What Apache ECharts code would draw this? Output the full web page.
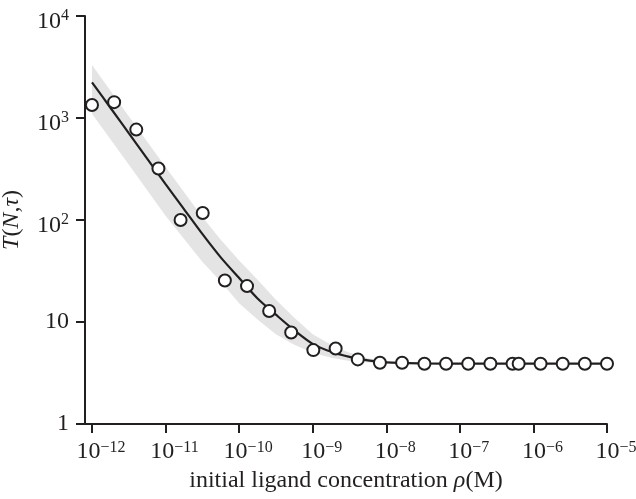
<!DOCTYPE html>
<html>
<head>
<meta charset="utf-8">
<script src="https://cdn.jsdelivr.net/npm/echarts@6/dist/echarts.min.js"></script>
<style>
  html, body { margin: 0; padding: 0; background: #fff; }
  #chart { width: 636px; height: 499px; }
</style>
</head>
<body>
<div id="chart"></div>
<script>
// measured points
const concentration = [1e-12, 2e-12, 4e-12, 8e-12, 1.6e-11, 3.2e-11, 6.4e-11, 1.28e-10, 2.56e-10, 5.1e-10,
  1.02e-9, 2.05e-9, 4.1e-9, 8.2e-9, 1.64e-8, 3.3e-8, 6.5e-8, 1.3e-7, 2.6e-7, 5.2e-7,
  6.3e-7, 1.25e-6, 2.5e-6, 5e-6, 1e-5];
const tValues = [1340, 1430, 770, 320, 100, 117, 25.5, 22.5, 12.8, 7.9,
  5.3, 5.5, 4.3, 3.98, 3.98, 3.9, 3.9, 3.9, 3.9, 3.9,
  3.9, 3.9, 3.9, 3.9, 3.9];

// fitted curve
const fitX = [1e-12, 1.78e-12, 3.16e-12, 5.62e-12, 1e-11, 1.78e-11, 3.16e-11, 5.62e-11, 1e-10, 1.78e-10,
  3.16e-10, 5.62e-10, 1e-9, 1.78e-9, 3.16e-9, 5.62e-9, 1e-8, 3.16e-8, 1e-7, 1e-6, 1e-5];
const fitY = [2240, 1260, 710, 400, 225, 128, 73, 43, 27, 17,
  11.8, 8.3, 6.1, 5.1, 4.55, 4.2, 4.02, 3.93, 3.9, 3.9, 3.9];

// grey confidence band
const bandX = [1e-12, 3.16e-12, 1e-11, 3.16e-11, 5.62e-11, 1e-10, 1.78e-10, 3.16e-10, 5.62e-10, 1e-9,
  1.78e-9, 3.16e-9, 5.62e-9, 1e-8, 1.78e-8];
const bandUpper = [3300, 1040, 330, 107, 64, 40, 26, 16.5, 11, 7.6, 6.0, 5.0, 4.4, 4.1, 3.95];
const bandLower = [1100, 350, 110, 39, 25, 15.3, 10.6, 7.6, 6.0, 5.0, 4.45, 4.15, 4.0, 3.93, 3.9];

const xTicks = [1e-12, 1e-11, 1e-10, 1e-9, 1e-8, 1e-7, 1e-6, 1e-5];
const yTicks = [1, 10, 100, 1000, 10000];

const ink = '#231f20';
const serif = 'Liberation Serif';

function powLabel(v) {
  const e = Math.round(Math.log10(v));
  if (e === 0) return '{b|1}';
  if (e === 1) return '{b|10}';
  return '{B|10}{S|' + (e < 0 ? '\u2212' : '') + Math.abs(e) + '}';
}

const chart = echarts.init(document.getElementById('chart'));

chart.setOption({
  backgroundColor: '#fff',
  animation: false,
  grid: { left: 85, right: 29, top: 16, bottom: 75, containLabel: false, outerBoundsMode: 'none' },
  xAxis: {
    type: 'log',
    logBase: 10,
    min: Math.pow(10, -12.095),
    max: 1e-5,
    name: 'initial ligand concentration {i|\u03c1}(M)',
    nameLocation: 'middle',
    nameGap: 36,
    nameTextStyle: {
      color: ink, fontFamily: serif, fontSize: 24,
      rich: { i: { fontStyle: 'italic', fontFamily: serif, fontSize: 24, color: ink } }
    },
    axisLine: { onZero: false, lineStyle: { color: ink, width: 2 } },
    axisTick: { length: 9, lineStyle: { color: ink, width: 2 }, customValues: xTicks },
    splitLine: { show: false },
    axisLabel: {
      customValues: xTicks,
      margin: 16,
      padding: [0, 0, 0, 18],
      formatter: powLabel,
      rich: {
        B: { fontFamily: serif, fontSize: 24, lineHeight: 24, color: ink },
        S: { fontFamily: serif, fontSize: 16, lineHeight: 14, verticalAlign: 'top', color: ink }
      }
    }
  },
  yAxis: {
    type: 'log',
    logBase: 10,
    min: 1,
    max: 10000,
    name: '{i|T}({i|N},{i|\u03c4})',
    nameLocation: 'middle',
    nameGap: 61,
    nameTextStyle: {
      color: ink, fontFamily: serif, fontSize: 24,
      rich: { i: { fontStyle: 'italic', fontFamily: serif, fontSize: 24, color: ink } }
    },
    axisLine: { onZero: false, lineStyle: { color: ink, width: 2 } },
    axisTick: { length: 9, lineStyle: { color: ink, width: 2 }, customValues: yTicks },
    splitLine: { show: false },
    axisLabel: {
      customValues: yTicks,
      margin: 16,
      formatter: powLabel,
      rich: {
        b: { fontFamily: serif, fontSize: 24, lineHeight: 24, color: ink },
        B: { fontFamily: serif, fontSize: 24, lineHeight: 36, verticalAlign: 'bottom', color: ink },
        S: { fontFamily: serif, fontSize: 16, lineHeight: 16, verticalAlign: 'middle', color: ink }
      }
    }
  },
  series: [
    {
      type: 'custom',
      name: 'band',
      silent: true,
      z: 1,
      data: bandX.map((x, i) => [x, bandLower[i], bandUpper[i]]),
      encode: { x: 0, y: [1, 2] },
      renderItem: function (params, api) {
        if (params.dataIndex !== 0) return null;
        const points = [];
        bandX.forEach((x, i) => points.push(api.coord([x, bandUpper[i]])));
        for (let i = bandX.length - 1; i >= 0; i--) {
          points.push(api.coord([bandX[i], bandLower[i]]));
        }
        return {
          type: 'polygon',
          shape: { points: points },
          style: { fill: '#e4e4e4', stroke: null }
        };
      }
    },
    {
      type: 'line',
      name: 'fit',
      data: fitX.map((x, i) => [x, fitY[i]]),
      symbol: 'none',
      smooth: 0.3,
      lineStyle: { color: ink, width: 2.2 },
      z: 2
    },
    {
      type: 'scatter',
      name: 'data',
      data: concentration.map((x, i) => [x, tValues[i]]),
      symbol: 'circle',
      symbolSize: 12,
      itemStyle: { color: '#fff', borderColor: ink, borderWidth: 2, opacity: 1 },
      z: 3
    }
  ]
});
</script>
</body>
</html>
